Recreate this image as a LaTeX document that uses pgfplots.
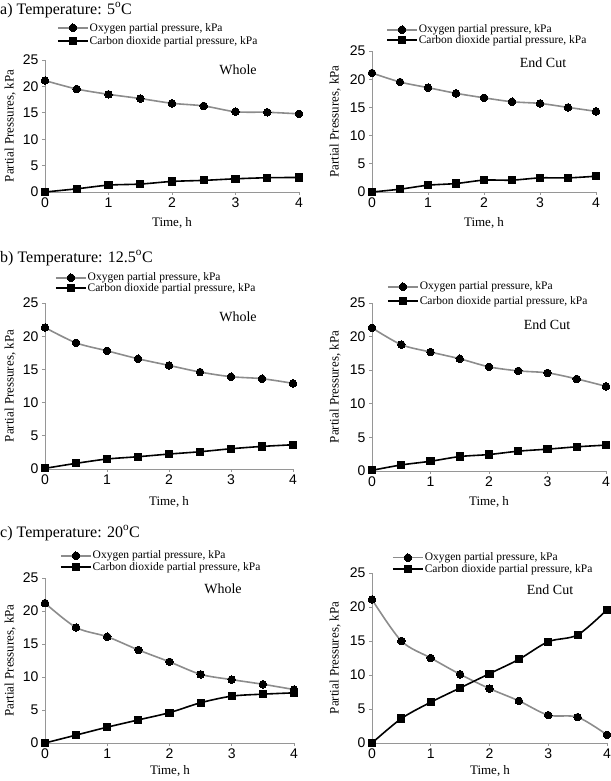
\documentclass[border=0pt]{standalone}
\usepackage{fontspec}
\setmainfont{Liberation Serif}
\newfontfamily\ticksf{Liberation Sans}
\usepackage{pgfplots}
\usepackage{pgfplotstable}
\pgfplotsset{compat=1.18}
\definecolor{axgray}{RGB}{150,150,150}
\definecolor{ogray}{RGB}{140,140,140}

\pgfplotstableread{
t O C
0   21.1 0
0.5 19.5 0.6
1   18.5 1.3
1.5 17.7 1.5
2   16.8 2.0
2.5 16.3 2.2
3   15.2 2.5
3.5 15.1 2.7
4   14.8 2.75
}\dataAL
\pgfplotstableread{
t O C
0   21.1 0
0.5 19.5 0.5
1   18.5 1.2
1.5 17.5 1.5
2   16.7 2.1
2.5 16.0 2.1
3   15.7 2.5
3.5 15.0 2.5
4   14.3 2.8
}\dataAR
\pgfplotstableread{
t O C
0   21.3 0.1
0.5 19.0 0.85
1   17.8 1.5
1.5 16.6 1.85
2   15.6 2.25
2.5 14.6 2.6
3   13.9 3.05
3.5 13.6 3.4
4   12.9 3.65
}\dataBL
\pgfplotstableread{
t O C
0   21.3 0.1
0.5 18.8 0.9
1   17.7 1.45
1.5 16.7 2.15
2   15.5 2.45
2.5 14.9 2.95
3   14.6 3.25
3.5 13.7 3.6
4   12.6 3.85
}\dataBR
\pgfplotstableread{
t O C
0   21.2 0
0.5 17.5 1.2
1   16.1 2.4
1.5 14.1 3.5
2   12.3 4.6
2.5 10.4 6.1
3   9.6  7.1
3.5 8.9  7.4
4   8.1  7.6
}\dataCL
\pgfplotstableread{
t O C
0   21.1 0
0.5 15.0 3.6
1   12.5 6.0
1.5 10.1 8.1
2   8.0  10.2
2.5 6.2  12.3
3   4.1  14.9
3.5 3.8  15.9
4   1.2  19.6
}\dataCR

\pgfplotsset{
  panel/.style={
    scale only axis, anchor=south west,
    xmin=0, xmax=4, ymin=0, ymax=25,
    xtick={0,1,2,3,4}, ytick={0,5,10,15,20,25},
    axis lines*=left,
    axis line style={draw=axgray, line width=0.8pt, -},
    tick style={draw=axgray, line width=0.8pt},
    tick align=outside, major tick length=3pt,
    tick label style={font=\ticksf\fontsize{14}{15}\selectfont},
    xticklabel style={inner sep=2.5pt},
    /pgf/number format/assume math mode=true,
    clip=false,
    legend style={draw=none, fill=none, inner sep=0pt, anchor=north west,
      font=\fontsize{11.5}{12}\selectfont, nodes={inner sep=1pt}},
    legend cell align=left,
    legend image code/.code={%
      \draw[mark repeat=2,mark phase=2,##1] plot coordinates {(0pt,0pt) (15pt,0pt) (30pt,0pt)};},
  },
  oxy/.style={draw=ogray, line width=1.6pt, smooth, mark=*, mark size=3.8pt,
    mark options={fill=black, draw=black, line width=0pt}},
  co2/.style={draw=black, line width=1.6pt, smooth, mark=square*, mark size=3.6pt,
    mark options={fill=black, draw=black, line width=0pt}},
}

\begin{document}
\begin{tikzpicture}[x=1pt,y=1pt]
\path[use as bounding box] (0pt,0pt) rectangle (610pt,781pt);

% ---------- a) ----------
\node[anchor=west, font=\fontsize{16}{18}\selectfont, inner sep=0pt] at (0pt,771pt) {a) Temperature: 5\textsuperscript{o}C};
\begin{axis}[panel, at={(45pt,589pt)}, width=254pt, height=132pt,
  legend style={at={(0.047,1.289)}, row sep=1.5pt}]
  \addplot[oxy] table[x=t,y=O] {\dataAL};
  \addlegendentry{Oxygen partial pressure, kPa}
  \addplot[co2] table[x=t,y=C] {\dataAL};
  \addlegendentry{Carbon dioxide partial pressure, kPa}
\end{axis}
\begin{axis}[panel, at={(372pt,589pt)}, width=224pt, height=141pt,
  legend style={at={(0.0625,1.193)}, row sep=-1.3pt}]
  \addplot[oxy] table[x=t,y=O] {\dataAR};
  \addlegendentry{Oxygen partial pressure, kPa}
  \addplot[co2] table[x=t,y=C] {\dataAR};
  \addlegendentry{Carbon dioxide partial pressure, kPa}
\end{axis}
\node[font=\fontsize{14}{16}\selectfont] at (238pt,711pt) {Whole};
\node[font=\fontsize{14}{16}\selectfont] at (543pt,718pt) {End Cut};
\node[rotate=90, font=\fontsize{13}{15}\selectfont] at (10pt,655pt) {Partial Pressures, kPa};
\node[rotate=90, font=\fontsize{13}{15}\selectfont] at (335pt,659.5pt) {Partial Pressures, kPa};
\node[font=\fontsize{13}{15}\selectfont] at (172pt,558pt) {Time, h};
\node[font=\fontsize{13}{15}\selectfont] at (484pt,558pt) {Time, h};

% ---------- b) ----------
\node[anchor=west, font=\fontsize{16}{18}\selectfont, inner sep=0pt] at (0pt,523pt) {b) Temperature: 12.5\textsuperscript{o}C};
\begin{axis}[panel, at={(45pt,312pt)}, width=248pt, height=166pt,
  legend style={at={(0.040,1.188)}, row sep=-1.3pt}]
  \addplot[oxy] table[x=t,y=O] {\dataBL};
  \addlegendentry{Oxygen partial pressure, kPa}
  \addplot[co2] table[x=t,y=C] {\dataBL};
  \addlegendentry{Carbon dioxide partial pressure, kPa}
\end{axis}
\begin{axis}[panel, at={(372pt,310pt)}, width=234pt, height=168pt,
  legend style={at={(0.064,1.132)}, row sep=2.6pt}]
  \addplot[oxy] table[x=t,y=O] {\dataBR};
  \addlegendentry{Oxygen partial pressure, kPa}
  \addplot[co2] table[x=t,y=C] {\dataBR};
  \addlegendentry{Carbon dioxide partial pressure, kPa}
\end{axis}
\node[font=\fontsize{14}{16}\selectfont] at (238pt,464pt) {Whole};
\node[font=\fontsize{14}{16}\selectfont] at (547pt,456pt) {End Cut};
\node[rotate=90, font=\fontsize{13}{15}\selectfont] at (10pt,395pt) {Partial Pressures, kPa};
\node[rotate=90, font=\fontsize{13}{15}\selectfont] at (335pt,394pt) {Partial Pressures, kPa};
\node[font=\fontsize{13}{15}\selectfont] at (169pt,279pt) {Time, h};
\node[font=\fontsize{13}{15}\selectfont] at (489pt,279pt) {Time, h};

% ---------- c) ----------
\node[anchor=west, font=\fontsize{16}{18}\selectfont, inner sep=0pt] at (0pt,248pt) {c) Temperature: 20\textsuperscript{o}C};
\begin{axis}[panel, at={(45pt,38pt)}, width=249pt, height=165pt,
  legend style={at={(0.060,1.171)}, row sep=-0.3pt}]
  \addplot[oxy] table[x=t,y=O] {\dataCL};
  \addlegendentry{Oxygen partial pressure, kPa}
  \addplot[co2] table[x=t,y=C] {\dataCL};
  \addlegendentry{Carbon dioxide partial pressure, kPa}
\end{axis}
\begin{axis}[panel, at={(372pt,38pt)}, width=235pt, height=170pt,
  legend style={at={(0.085,1.125)}, row sep=-0.3pt}]
  \addplot[oxy] table[x=t,y=O] {\dataCR};
  \addlegendentry{Oxygen partial pressure, kPa}
  \addplot[co2] table[x=t,y=C] {\dataCR};
  \addlegendentry{Carbon dioxide partial pressure, kPa}
\end{axis}
\node[font=\fontsize{14}{16}\selectfont] at (223pt,192pt) {Whole};
\node[font=\fontsize{14}{16}\selectfont] at (550pt,191pt) {End Cut};
\node[rotate=90, font=\fontsize{13}{15}\selectfont] at (10pt,120.5pt) {Partial Pressures, kPa};
\node[rotate=90, font=\fontsize{13}{15}\selectfont] at (335pt,123pt) {Partial Pressures, kPa};
\node[font=\fontsize{13}{15}\selectfont] at (170pt,10pt) {Time, h};
\node[font=\fontsize{13}{15}\selectfont] at (490pt,10pt) {Time, h};
\end{tikzpicture}
\end{document}
